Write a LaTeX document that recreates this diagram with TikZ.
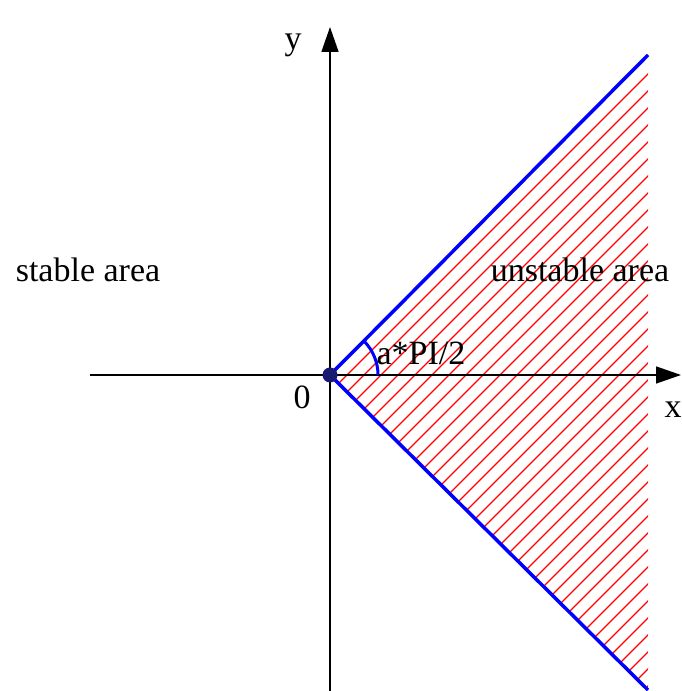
\documentclass[tikz,border=0pt]{standalone}
\usepackage{fontspec}
\setmainfont{Liberation Serif}
\usetikzlibrary{arrows.meta}
\begin{document}
\begin{tikzpicture}[x=1pt,y=1pt,
  axis/.style={line width=1.5pt,-{Triangle[length=25pt,width=17pt]}},
  bound/.style={blue,line width=3.5pt},
  hatch/.style={red,line width=1.2pt},
  lbl/.style={font=\fontsize{34}{36}\selectfont,inner sep=0pt}]
\useasboundingbox (0,0) rectangle (681,691);
\coordinate (O) at (330,316);
\coordinate (UR) at (648,636);
\coordinate (LR) at (648,1);
\coordinate (xs) at (90,316);
\coordinate (xe) at (681,316);
\coordinate (ys) at (330,0);
\coordinate (ye) at (330,664);
% hatching
\begin{scope}
\clip (O) -- (UR) -- (LR) -- cycle;
\foreach \k in {1,...,38}{
  \pgfmathsetmacro{\c}{14+17*\k}
  \draw[hatch] (330,330-\c) -- (700,700-\c);
}
\end{scope}
\draw[axis] (xs) -- (xe);
\draw[axis] (ys) -- (ye);
\draw[bound] (O) -- (UR);
\draw[bound] (O) -- (LR);
\draw[blue,line width=3pt] (378,316) arc[start angle=0,end angle=45,radius=48];
\fill[fill={rgb,255:red,25;green,25;blue,112}] (O) circle (7.5);
\node[lbl] (ylab) at (293,646) {y};
\node[lbl] (xlab) at (673,281) {x};
\node[lbl] (zero) at (302,294) {0};
\node[lbl] (stable) at (88,421) {stable area};
\node[lbl] (unstable) at (580,421) {unstable area};
\node[lbl] (ang) at (421,338) {a*PI/2};
\end{tikzpicture}
\end{document}
